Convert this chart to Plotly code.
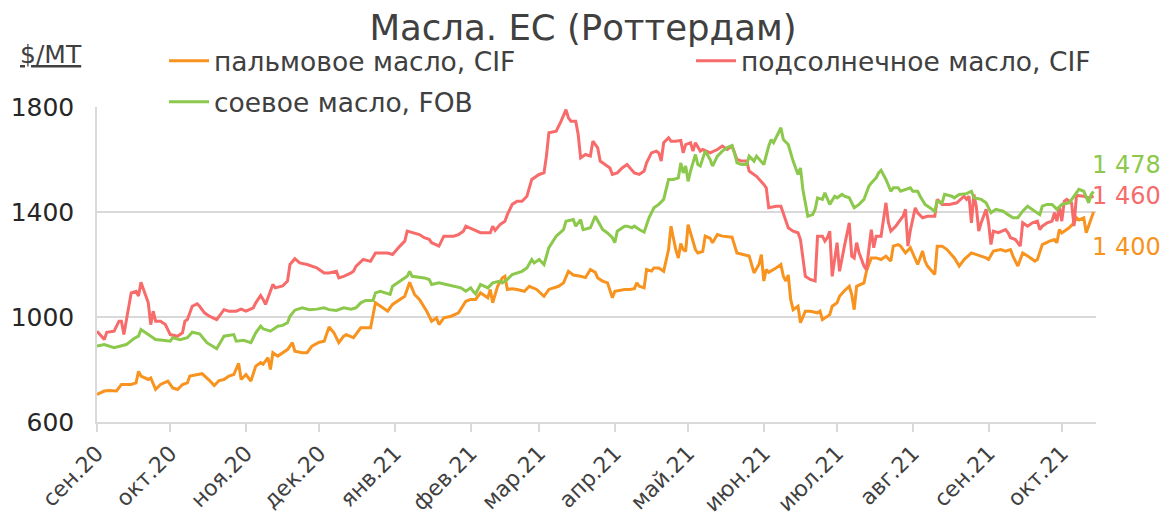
import pandas as pd
import plotly.graph_objects as go

START = pd.Timestamp("2020-09-01")

# Sunflower oil, CIF (days since 2020-09-01, $/MT)
sun_days = [0,3,4,7,9,10,11,12,14,16,17,18,19,21,22,23,24,26,28,30,33,35,36,37,39,41,42,44,46,49,52,54,57,59,61,64,65,67,68,69,72,73,76,78,79,81,83,86,90,93,95,98,99,101,104,105,106,109,112,114,119,121,124,126,127,129,132,134,136,137,140,142,146,148,150,151,154,157,161,162,163,165,167,168,170,172,174,176,178,181,183,184,185,188,190,192,193,194,196,197,198,200,202,203,205,206,208,210,211,213,215,217,220,222,224,225,227,229,230,231,232,234,235,237,239,240,241,243,244,245,247,248,251,254,256,258,260,261,262,264,266,267,270,273,274,275,278,280,281,283,285,287,288,290,292,294,295,297,298,299,300,301,303,304,306,308,309,310,311,312,314,315,317,318,319,321,323,324,325,327,330,331,332,333,335,336,338,340,343,344,346,349,352,355,356,357,358,359,360,361,362,364,365,366,367,369,372,373,374,376,378,379,381,383,385,386,387,389,391,392,393,394,395,396,397,398,399,400,401,404,406,408]
sun_vals = [946,914,942,946,984,984,933,990,1092,1098,1080,1132,1105,1054,971,1022,984,984,971,933,927,940,984,990,1041,1050,1041,1016,1003,990,1028,1022,1022,1030,1022,1035,1054,1082,1067,1048,1124,1111,1118,1137,1200,1222,1206,1200,1187,1168,1168,1174,1149,1155,1168,1174,1193,1219,1212,1244,1244,1238,1270,1289,1327,1321,1314,1302,1296,1283,1270,1308,1308,1314,1327,1346,1333,1321,1321,1346,1330,1352,1365,1390,1429,1441,1441,1460,1524,1543,1549,1613,1702,1708,1746,1790,1759,1746,1746,1695,1606,1619,1613,1670,1644,1594,1581,1568,1543,1549,1568,1581,1549,1543,1556,1587,1625,1632,1625,1594,1664,1683,1670,1670,1673,1625,1657,1664,1632,1664,1632,1638,1625,1638,1651,1638,1651,1625,1600,1594,1594,1556,1536,1505,1492,1416,1422,1422,1397,1340,1327,1321,1295,1155,1143,1137,1308,1308,1289,1302,1327,1155,1283,1174,1270,1359,1232,1225,1283,1245,1194,1180,1333,1264,1308,1308,1435,1360,1327,1346,1384,1410,1270,1330,1416,1397,1378,1384,1384,1448,1429,1429,1435,1460,1448,1460,1359,1467,1420,1327,1359,1410,1359,1276,1327,1321,1333,1321,1302,1295,1270,1359,1346,1359,1365,1333,1346,1359,1365,1397,1365,1422,1365,1441,1448,1441,1435,1346,1463,1460,1454,1460]

# Soybean oil, FOB
soy_days = [0,3,7,9,12,15,17,18,21,23,24,27,30,31,34,37,39,42,45,49,52,56,57,60,63,65,67,68,71,74,76,78,79,81,84,87,90,93,95,98,101,104,106,108,110,113,114,116,120,121,124,127,128,129,134,136,137,140,143,146,149,151,153,154,155,157,160,162,165,166,168,170,172,174,176,178,179,181,183,185,188,191,192,195,196,198,199,202,204,205,207,209,211,212,213,216,217,219,220,222,224,226,228,230,232,234,236,238,239,240,241,242,243,245,246,247,249,251,252,254,256,258,260,261,262,264,266,267,269,270,273,275,276,277,280,281,283,285,287,288,289,291,293,294,295,297,298,300,302,303,305,306,308,310,312,314,316,317,319,320,321,323,325,326,328,329,331,333,334,336,337,339,341,343,344,346,347,350,351,353,356,358,359,362,364,365,366,368,371,373,375,377,379,381,383,386,387,389,391,393,395,398,400,401,402,404,405,406,407,408]
soy_vals = [889,895,883,889,895,917,927,952,933,921,914,911,908,921,914,921,942,936,902,879,927,933,908,911,902,940,965,955,946,965,968,978,1003,1026,1035,1028,1030,1035,1028,1025,1035,1030,1035,1054,1063,1063,1092,1098,1086,1117,1137,1155,1174,1155,1149,1143,1124,1130,1124,1117,1111,1098,1111,1098,1088,1124,1111,1130,1137,1130,1143,1162,1168,1174,1187,1219,1206,1219,1200,1264,1308,1333,1365,1371,1346,1371,1333,1340,1384,1365,1333,1320,1302,1283,1327,1346,1346,1340,1346,1333,1323,1378,1416,1429,1448,1524,1524,1530,1587,1549,1575,1517,1556,1619,1581,1575,1632,1600,1575,1613,1632,1645,1653,1625,1587,1581,1581,1613,1594,1613,1581,1651,1676,1664,1721,1676,1657,1594,1543,1568,1486,1384,1390,1410,1454,1448,1473,1429,1460,1454,1467,1460,1454,1416,1429,1448,1498,1511,1530,1549,1559,1524,1479,1492,1492,1479,1486,1492,1479,1479,1460,1429,1416,1403,1441,1435,1467,1460,1454,1467,1470,1479,1454,1448,1435,1416,1397,1410,1403,1390,1378,1378,1403,1422,1410,1390,1422,1429,1429,1410,1429,1435,1460,1473,1486,1479,1460,1435,1467,1478]

# Palm oil, CIF
palm_days = [0,3,5,8,10,14,16,17,18,21,22,24,26,29,31,33,35,37,38,41,43,46,48,50,52,54,56,58,59,61,63,65,67,68,70,71,72,74,76,78,80,81,84,86,88,91,93,95,97,99,101,102,105,108,112,114,117,119,121,123,126,128,130,132,135,137,139,140,142,145,148,151,153,155,157,160,161,162,164,166,167,168,170,172,175,177,180,183,185,189,191,193,195,198,200,202,204,205,207,209,211,212,216,218,220,221,222,224,225,227,228,230,232,234,235,236,237,238,239,240,241,242,243,245,246,248,249,251,252,254,256,260,262,264,267,269,271,272,273,274,275,278,280,281,282,283,284,285,287,288,290,292,295,296,297,300,301,303,304,306,308,309,310,311,314,315,317,319,321,323,325,326,328,329,331,333,335,336,338,339,340,343,344,346,348,351,353,355,358,360,362,364,365,367,370,372,374,375,377,379,381,384,385,387,390,392,393,394,395,398,400,401,402,404,405,407,408]
palm_vals = [705,718,720,718,743,743,749,793,775,762,768,724,743,756,730,724,743,749,775,781,784,759,739,758,762,775,781,823,762,781,756,813,826,820,845,800,864,851,864,876,902,870,864,864,889,904,908,962,940,902,927,933,921,959,959,1054,1035,1022,1048,1060,1079,1132,1086,1067,1022,984,997,971,997,1003,1016,1060,1067,1067,1092,1073,1105,1054,1117,1149,1155,1105,1108,1105,1098,1117,1105,1079,1105,1117,1130,1174,1160,1155,1150,1181,1170,1149,1137,1130,1073,1098,1105,1105,1108,1130,1117,1111,1181,1175,1187,1187,1174,1257,1346,1300,1255,1225,1280,1257,1250,1352,1320,1257,1244,1250,1308,1300,1283,1314,1308,1304,1244,1238,1232,1168,1200,1238,1137,1181,1170,1187,1200,1155,1137,1160,1067,1028,1041,978,1022,1022,1016,1022,990,1009,1041,1054,1079,1100,1117,1085,1028,1117,1130,1174,1225,1225,1219,1232,1213,1270,1276,1270,1244,1264,1219,1200,1251,1213,1194,1162,1270,1270,1257,1225,1194,1219,1244,1238,1232,1225,1219,1251,1257,1251,1257,1232,1194,1244,1232,1213,1219,1276,1289,1295,1283,1333,1320,1340,1359,1378,1370,1378,1321,1370,1400]

month_ticks = ["2020-09-01","2020-10-01","2020-11-01","2020-12-01","2021-01-01","2021-02-01",
               "2021-03-01","2021-04-01","2021-05-01","2021-06-01","2021-07-01","2021-08-01",
               "2021-09-01","2021-10-01"]
month_labels = ["сен.20","окт.20","ноя.20","дек.20","янв.21","фев.21","мар.21","апр.21",
                "май.21","июн.21","июл.21","авг.21","сен.21","окт.21"]

names = ["пальмовое масло, CIF", "подсолнечное масло, CIF", "соевое масло, FOB"]
colors = ["#F7931E", "#F76B6B", "#8CC84B"]
end_labels = ["1 400", "1 460", "1 478"]
label_shift = [-35, 0, 27]

FONT = "DejaVu Sans"
TXT = "#404040"
W, H = 1166, 518

def to_dates(days):
    return [START + pd.Timedelta(days=d) for d in days]

series = [(palm_days, palm_vals), (sun_days, sun_vals), (soy_days, soy_vals)]
legends = ["legend", "legend2", "legend3"]

fig = go.Figure()
for i, (d, v) in enumerate(series):
    fig.add_trace(go.Scatter(x=to_dates(d), y=v, mode="lines", name=names[i],
                             line=dict(color=colors[i], width=3), legend=legends[i]))

for i, (d, v) in enumerate(series):
    fig.add_annotation(x=to_dates(d)[-1], y=v[-1], text=end_labels[i], showarrow=False,
                       xanchor="left", yanchor="middle", xshift=-4, yshift=label_shift[i],
                       font=dict(family=FONT, size=24, color=colors[i]))

# axis unit label (top-left, above the y tick labels)
fig.add_annotation(x=(18 - 97) / 998.6, y=(422 - 55) / 314.5, xref="paper", yref="paper",
                   text="<u>$/МТ</u>", showarrow=False, xanchor="left", yanchor="middle",
                   font=dict(family=FONT, size=25, color=TXT))

leg_common = dict(orientation="h", bgcolor="rgba(0,0,0,0)", yanchor="top", xanchor="left",
                  xref="container", yref="container",
                  font=dict(family=FONT, size=26.5, color=TXT), itemwidth=40)

fig.update_layout(
    width=W, height=H,
    margin=dict(l=97, r=70, t=107, b=96, autoexpand=False),
    showlegend=True,
    paper_bgcolor="white", plot_bgcolor="white",
    title=dict(text="Масла. ЕС (Роттердам)", x=0.5, xanchor="center", xref="container",
               yref="container", y=1 - 28 / H, yanchor="middle",
               font=dict(family=FONT, size=35.5, color=TXT)),
    legend=dict(x=164 / W, y=1 - 37 / H, **leg_common),
    legend2=dict(x=691 / W, y=1 - 37 / H, **leg_common),
    legend3=dict(x=164 / W, y=1 - 78 / H, **leg_common),
    xaxis=dict(range=[START, START + pd.Timedelta(days=409)], tickvals=pd.to_datetime(month_ticks),
               ticktext=month_labels, tickangle=-45, showgrid=False, automargin=False,
               showline=True, linecolor="#D9D9D9", linewidth=1.5,
               ticks="outside", ticklen=8, tickcolor="#D9D9D9", tickwidth=1.5,
               tickfont=dict(family=FONT, size=22, color=TXT)),
    yaxis=dict(range=[600, 1800], tickvals=[600, 1000, 1400, 1800], showgrid=True,
               gridcolor="#D9D9D9", gridwidth=1.5, showline=True, linecolor="#D9D9D9",
               linewidth=1.5, ticks="", zeroline=False, automargin=False,
               ticklabelstandoff=16,
               tickfont=dict(family=FONT, size=25, color="#262626")),
)

fig.write_html("out.html", config={"displayModeBar": False},
               post_script="document.body.style.margin='0';")
